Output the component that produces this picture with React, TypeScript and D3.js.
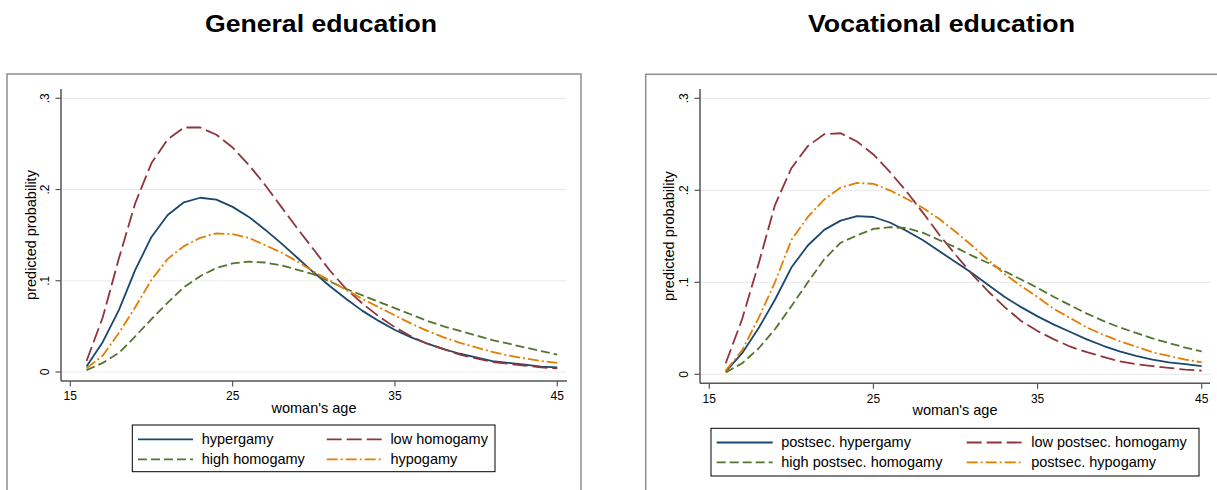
import React from "react";
import * as d3 from "d3";

const ages = [16, 17, 18, 19, 20, 21, 22, 23, 24, 25, 26, 27, 28, 29, 30, 31, 32, 33, 34, 35, 36, 37, 38, 39, 40, 41, 42, 43, 44, 45];

// General education
const genHypergamy = [0.006, 0.033, 0.068, 0.112, 0.148, 0.172, 0.186, 0.191, 0.189, 0.181, 0.170, 0.156, 0.141, 0.125, 0.109, 0.094, 0.080, 0.067, 0.056, 0.046, 0.038, 0.031, 0.025, 0.020, 0.016, 0.012, 0.010, 0.008, 0.006, 0.005];
const genLowHomogamy = [0.012, 0.060, 0.125, 0.185, 0.229, 0.255, 0.268, 0.268, 0.260, 0.246, 0.227, 0.205, 0.181, 0.157, 0.134, 0.111, 0.091, 0.075, 0.061, 0.049, 0.039, 0.031, 0.025, 0.019, 0.015, 0.011, 0.009, 0.007, 0.005, 0.004];
const genHighHomogamy = [0.002, 0.010, 0.021, 0.039, 0.058, 0.076, 0.093, 0.105, 0.114, 0.119, 0.121, 0.120, 0.117, 0.112, 0.107, 0.099, 0.091, 0.084, 0.077, 0.070, 0.063, 0.056, 0.050, 0.045, 0.040, 0.035, 0.031, 0.027, 0.023, 0.019];
const genHypogamy = [0.004, 0.018, 0.043, 0.071, 0.101, 0.124, 0.138, 0.147, 0.152, 0.151, 0.147, 0.139, 0.131, 0.121, 0.110, 0.100, 0.090, 0.080, 0.071, 0.062, 0.053, 0.045, 0.038, 0.032, 0.027, 0.022, 0.018, 0.015, 0.012, 0.010];

// Vocational education
const vocHypergamy = [0.003, 0.023, 0.050, 0.081, 0.116, 0.140, 0.157, 0.167, 0.172, 0.171, 0.165, 0.156, 0.146, 0.134, 0.122, 0.110, 0.097, 0.084, 0.073, 0.063, 0.054, 0.046, 0.038, 0.031, 0.025, 0.020, 0.016, 0.013, 0.011, 0.009];
const vocLowHomogamy = [0.012, 0.060, 0.120, 0.184, 0.224, 0.248, 0.261, 0.262, 0.253, 0.239, 0.220, 0.199, 0.176, 0.152, 0.130, 0.109, 0.090, 0.073, 0.058, 0.047, 0.038, 0.030, 0.024, 0.019, 0.014, 0.011, 0.009, 0.007, 0.005, 0.004];
const vocHighHomogamy = [0.002, 0.012, 0.028, 0.049, 0.074, 0.100, 0.125, 0.143, 0.151, 0.158, 0.160, 0.159, 0.154, 0.146, 0.138, 0.129, 0.121, 0.112, 0.103, 0.094, 0.084, 0.075, 0.066, 0.058, 0.051, 0.045, 0.039, 0.034, 0.029, 0.025];
const vocHypogamy = [0.004, 0.026, 0.061, 0.100, 0.146, 0.171, 0.190, 0.203, 0.208, 0.207, 0.200, 0.191, 0.181, 0.169, 0.155, 0.140, 0.124, 0.109, 0.096, 0.084, 0.071, 0.061, 0.051, 0.043, 0.036, 0.030, 0.024, 0.020, 0.016, 0.013];

const xTicks = [15, 25, 35, 45];
const yTicks = [0, 0.1, 0.2, 0.3];
const yTickLabels = ["0", ".1", ".2", ".3"];

const genLabels = ["hypergamy", "low homogamy", "high homogamy", "hypogamy"];
const vocLabels = ["postsec. hypergamy", "low postsec. homogamy", "high postsec. homogamy", "postsec. hypogamy"];

const colors = ["#1a476f", "#90353b", "#55752f", "#e37e00"];
const dashes = ["none", "15,5", "9,4", "11,3,2,3"];

const FONT = "'Liberation Sans', Arial, Helvetica, sans-serif";

type PanelProps = {
  title: string;
  titleX: number;
  frame: [number, number, number];
  box: { x0: number; x1: number; y0: number; y1: number };
  xr: [number, number];
  yr: [number, number];
  series: number[][];
  labels: string[];
  ytickLabelX: number;
  ytitleX: number;
  xtickBaseline: number;
  xtitleBaseline: number;
  legend: { x0: number; x1: number; y0: number; y1: number; rows: [number, number]; cols: [number, number]; sampleLen: number; textOff: number; baseOff: number };
};

function Panel(p: PanelProps) {
  const x = d3.scaleLinear().domain([15, 45]).range(p.xr);
  const y = d3.scaleLinear().domain([0, 0.3]).range(p.yr);
  const line = d3
    .line<number>()
    .x((_, i) => x(ages[i]))
    .y((d) => y(d));
  const { x0, x1, y0, y1 } = p.box;
  const L = p.legend;
  // legend order: col1 row1 = s0, col2 row1 = s1, col1 row2 = s2, col2 row2 = s3
  const legendPos = [
    [0, 0],
    [1, 0],
    [0, 1],
    [1, 1],
  ];
  return (
    <g>
      <rect x={p.frame[0]} y={p.frame[1]} width={p.frame[2] - p.frame[0]} height={500} fill="white" stroke="#8f8f8f" strokeWidth={1.5} />
      <text x={p.titleX} y={31.5} textAnchor="middle" fontFamily={FONT} fontWeight="bold" fontSize={24} textLength={p.title === "General education" ? 232 : 267} lengthAdjust="spacingAndGlyphs">
        {p.title}
      </text>
      {yTicks.map((t) => (
        <line key={"g" + t} x1={x0} x2={x1} y1={y(t)} y2={y(t)} stroke="#ececec" strokeWidth={1.2} />
      ))}
      {p.series.map((s, i) => (
        <path key={i} d={line(s) || ""} fill="none" stroke={colors[i]} strokeWidth={1.8} strokeDasharray={dashes[i]} strokeLinejoin="round" />
      ))}
      <line x1={x0} x2={x0} y1={y0} y2={y1} stroke="#555" strokeWidth={1.5} />
      <line x1={x0} x2={x1} y1={y1} y2={y1} stroke="#555" strokeWidth={1.5} />
      {yTicks.map((t, i) => (
        <g key={"yt" + t}>
          <line x1={x0 - 5.5} x2={x0} y1={y(t)} y2={y(t)} stroke="#555" strokeWidth={1.2} />
          <text transform={`translate(${p.ytickLabelX},${y(t)}) rotate(-90)`} textAnchor="middle" fontFamily={FONT} fontSize={12}>
            {yTickLabels[i]}
          </text>
        </g>
      ))}
      {xTicks.map((t) => (
        <g key={"xt" + t}>
          <line x1={x(t)} x2={x(t)} y1={y1} y2={y1 + 5.5} stroke="#555" strokeWidth={1.2} />
          <text x={x(t)} y={p.xtickBaseline} textAnchor="middle" fontFamily={FONT} fontSize={12}>
            {t}
          </text>
        </g>
      ))}
      <text x={(x0 + x1) / 2} y={p.xtitleBaseline} textAnchor="middle" fontFamily={FONT} fontSize={14.5}>
        woman's age
      </text>
      <text transform={`translate(${p.ytitleX},${(y0 + y1) / 2}) rotate(-90)`} textAnchor="middle" fontFamily={FONT} fontSize={14.5}>
        predicted probability
      </text>
      <rect x={L.x0} y={L.y0} width={L.x1 - L.x0} height={L.y1 - L.y0} fill="white" stroke="black" strokeWidth={1} />
      {p.labels.map((lab, i) => {
        const [c, r] = legendPos[i];
        const lx = L.cols[c];
        const ly = L.rows[r];
        return (
          <g key={"lg" + i}>
            <line x1={lx} x2={lx + L.sampleLen} y1={ly} y2={ly} stroke={colors[i]} strokeWidth={1.8} strokeDasharray={dashes[i]} />
            <text x={lx + L.textOff} y={ly + L.baseOff} fontFamily={FONT} fontSize={14.5}>
              {lab}
            </text>
          </g>
        );
      })}
    </g>
  );
}

export default function App() {
  return (
    <svg width={1217} height={490} style={{ position: "absolute", left: 0, top: 0, background: "white" }}>
      <rect x={0} y={0} width={1217} height={490} fill="white" />
      <Panel
        title="General education"
        titleX={321}
        frame={[7, 74, 581]}
        box={{ x0: 61, x1: 567, y0: 89, y1: 381 }}
        xr={[70.3, 557.3]}
        yr={[372, 98.3]}
        series={[genHypergamy, genLowHomogamy, genHighHomogamy, genHypogamy]}
        labels={genLabels}
        ytickLabelX={49}
        ytitleX={35.5}
        xtickBaseline={400}
        xtitleBaseline={413}
        legend={{ x0: 132.3, x1: 495, y0: 425, y1: 471.7, rows: [439.3, 459.3], cols: [138, 326.7], sampleLen: 55, textOff: 63.7, baseOff: 4.8 }}
      />
      <Panel
        title="Vocational education"
        titleX={941.5}
        frame={[645.7, 74.3, 1230]}
        box={{ x0: 700, x1: 1210, y0: 89, y1: 383.3 }}
        xr={[709.3, 1201.7]}
        yr={[374.3, 98.3]}
        series={[vocHypergamy, vocLowHomogamy, vocHighHomogamy, vocHypogamy]}
        labels={vocLabels}
        ytickLabelX={688}
        ytitleX={674}
        xtickBaseline={403.3}
        xtitleBaseline={415.3}
        legend={{ x0: 711, x1: 1199, y0: 428.3, y1: 476, rows: [442.5, 462.3], cols: [716.7, 966.7], sampleLen: 56, textOff: 64.5, baseOff: 4.6 }}
      />
    </svg>
  );
}
